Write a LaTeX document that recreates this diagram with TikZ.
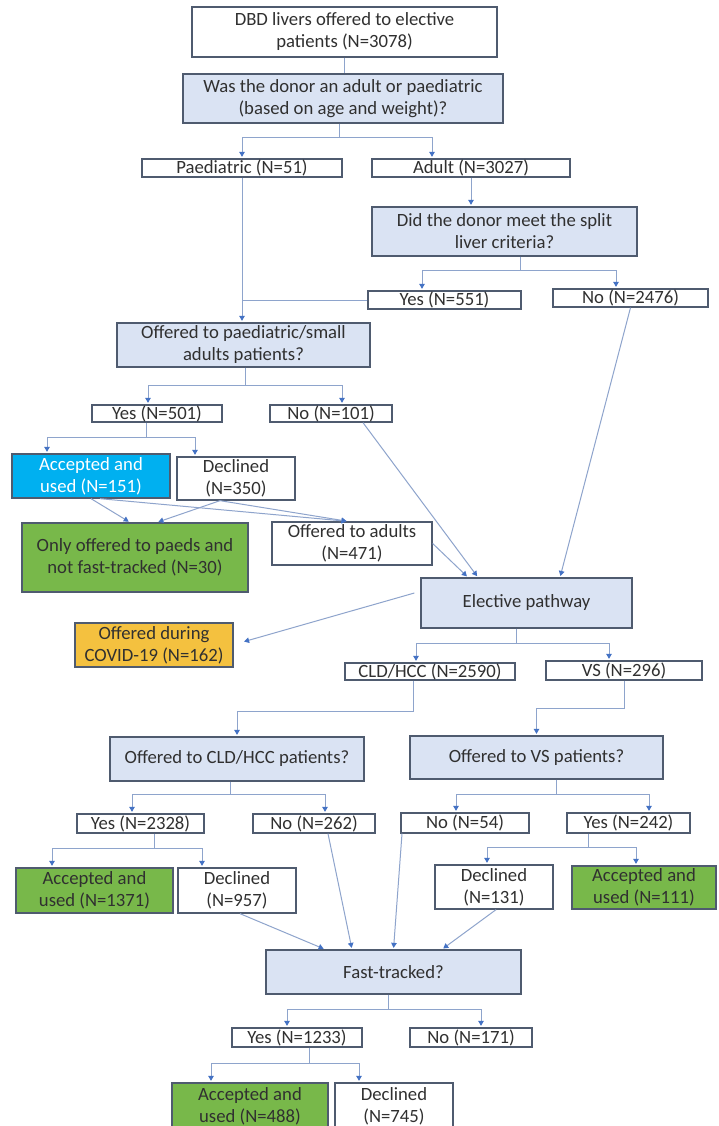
\documentclass[tikz,border=0pt]{standalone}
\usepackage{fontspec}
\setmainfont{Carlito}
\usetikzlibrary{arrows.meta,calc}
\definecolor{bord}{HTML}{4F5B6F}
\definecolor{qfill}{HTML}{DAE3F3}
\definecolor{lnc}{HTML}{8EA4CC}
\definecolor{tipc}{HTML}{4472C4}
\definecolor{grn}{HTML}{78B84A}
\definecolor{cyanb}{HTML}{00B0F0}
\definecolor{orng}{HTML}{F4C13F}
\definecolor{txt}{HTML}{303030}
\tikzset{
 base/.style={draw=bord, line width=1.3pt, inner sep=0pt, align=center, text=txt, font=\fontsize{18.7}{22}\selectfont},
 plainbox/.style={base, fill=white},
 questbox/.style={base, fill=qfill},
 grnbox/.style={base, fill=grn},
 cyanbox/.style={base, fill=cyanb, text=white},
 covidbox/.style={base, fill=orng},
 conn/.style={draw=lnc, line width=1pt},
 arr/.style={conn, -{Triangle[width=5.5pt,length=5pt,color=tipc]}, shorten >=1.5pt},
}
\newcommand\drawbox[7]{\node[#6, minimum width={(#4)-(#2)}, minimum height={(#5)-(#3)}] (#1) at ({((#2)+(#4))/2},{((#3)+(#5))/2}) {#7};}
\begin{document}
\begin{tikzpicture}[x=1pt,y=-1pt]
\useasboundingbox (0,0) rectangle (718,1126);
\fill[white] (0,0) rectangle (718,1126);
\drawbox{dbd}{192}{7}{497}{57}{plainbox}{DBD livers offered to elective\\patients (N=3078)}
\drawbox{q1}{183}{74}{503}{123}{questbox}{Was the donor an adult or paediatric\\(based on age and weight)?}
\drawbox{paed}{142}{159}{342}{177}{plainbox}{Paediatric (N=51)}
\drawbox{adult}{372}{159}{570}{177}{plainbox}{Adult (N=3027)}
\drawbox{split}{372}{207}{637}{256}{questbox}{Did the donor meet the split\\liver criteria?}
\drawbox{yesA}{368}{291}{521}{309}{plainbox}{Yes (N=551)}
\drawbox{noA}{553}{289}{708}{307}{plainbox}{No (N=2476)}
\drawbox{qpaed}{117}{323}{370}{367}{questbox}{Offered to paediatric/small\\adults patients?}
\drawbox{yesB}{92}{405}{222}{422}{plainbox}{Yes (N=501)}
\drawbox{noB}{270}{405}{392}{422}{plainbox}{No (N=101)}
\drawbox{accA}{12}{454}{170}{498}{cyanbox}{Accepted and\\used (N=151)}
\drawbox{decA}{177}{457}{295}{500}{plainbox}{Declined\\(N=350)}
\drawbox{paedsonly}{22}{523}{248}{592}{grnbox}{Only offered to paeds and\\not fast-tracked (N=30)}
\drawbox{adults}{272}{522}{432}{565}{plainbox}{Offered to adults\\(N=471)}
\drawbox{elective}{421}{578}{632}{628}{questbox}{Elective pathway}
\drawbox{covid}{75}{623}{233}{667}{covidbox}{Offered during\\COVID-19 (N=162)}
\drawbox{cld}{345}{663}{515}{680}{plainbox}{CLD/HCC (N=2590)}
\drawbox{vs}{546}{661}{702}{680}{plainbox}{VS (N=296)}
\drawbox{qcld}{110}{737}{364}{781}{questbox}{Offered to CLD/HCC patients?}
\drawbox{qvs}{410}{736}{663}{779}{questbox}{Offered to VS patients?}
\drawbox{yesC}{77}{814}{204}{833}{plainbox}{Yes (N=2328)}
\drawbox{noC}{253}{814}{375}{833}{plainbox}{No (N=262)}
\drawbox{noD}{401}{813}{529}{833}{plainbox}{No (N=54)}
\drawbox{yesD}{567}{813}{690}{833}{plainbox}{Yes (N=242)}
\drawbox{accC}{16}{868}{173}{913}{grnbox}{Accepted and\\used (N=1371)}
\drawbox{decC}{178}{868}{296}{913}{plainbox}{Declined\\(N=957)}
\drawbox{decD}{435}{865}{553}{909}{plainbox}{Declined\\(N=131)}
\drawbox{accD}{572}{866}{716}{909}{grnbox}{Accepted and\\used (N=111)}
\drawbox{fast}{266}{950}{521}{994}{questbox}{Fast-tracked?}
\drawbox{yesE}{232}{1028}{362}{1047}{plainbox}{Yes (N=1233)}
\drawbox{noE}{410}{1028}{532}{1047}{plainbox}{No (N=171)}
\drawbox{accE}{172}{1083}{328}{1129}{grnbox}{Accepted and\\used (N=488)}
\drawbox{decE}{335}{1083}{453}{1129}{plainbox}{Declined\\(N=745)}
% connectors
\draw[conn] (dbd.south) -- (dbd.south |- q1.north);
\draw[conn] ([xshift=-4pt]q1.south) -- ++(0,14) coordinate (j1);
\draw[arr] (j1) -| (paed.north);
\draw[arr] (j1) -| ([xshift=-39pt]adult.north);
\draw[arr] (adult.south) -- (adult.south |- split.north);
\draw[conn] ([xshift=16pt]split.south) -- ++(0,14) coordinate (j2);
\draw[arr] (j2) -| ([xshift=-22.5pt]yesA.north);
\draw[arr] (j2) -| ([xshift=-14.5pt]noA.north);
\draw[arr] (paed.south) -- (paed.south |- qpaed.north);
\draw[conn] (yesA.west) -- (yesA.west -| paed.south);
\draw[conn] ([xshift=1.5pt]qpaed.south) -- ++(0,18) coordinate (j3);
\draw[arr] (j3) -| ([xshift=-9pt]yesB.north);
\draw[arr] (j3) -| ([xshift=11pt]noB.north);
\draw[conn] ([xshift=-11pt]yesB.south) -- ++(0,15) coordinate (j4);
\draw[arr] (j4) -| ([xshift=-44pt]accA.north);
\draw[arr] (j4) -| ([xshift=-41pt]decA.north);
\draw[arr] (accA.south) -- ([xshift=-5pt]paedsonly.north);
\draw[arr] ([xshift=-16pt]decA.south) -- ([xshift=22pt]paedsonly.north);
\draw[arr] ([xshift=9pt]accA.south) -- ([xshift=-4pt]adults.north);
\draw[arr] ([xshift=-16pt]decA.south) -- ([xshift=-4pt]adults.north);
\draw[arr] ([xshift=32pt]noB.south) -- ([xshift=-48.5pt]elective.north);
\draw[arr] (adults.east) -- ([xshift=-58.5pt]elective.north);
\draw[arr] (noA.south) -- ([xshift=33.5pt]elective.north);
\draw[arr] ([xshift=-6pt,yshift=10pt]elective.west) -- ([xshift=9pt,yshift=3pt]covid.east);
\draw[conn] ([xshift=-10.5pt]elective.south) -- ++(0,15) coordinate (j5);
\draw[arr] (j5) -| ([xshift=-14pt]cld.north);
\draw[arr] (j5) -| ([xshift=-15pt]vs.north);
\draw[conn] ([xshift=-17pt]cld.south) -- ++(0,31) coordinate (j6);
\draw[arr] (j6) -| (qcld.north);
\draw[conn] (vs.south) -- ++(0,28) coordinate (j7);
\draw[arr] (j7) -| (qvs.north);
\draw[conn] ([xshift=-7pt]qcld.south) -- ++(0,13) coordinate (j8);
\draw[arr] (j8) -| ([xshift=-8.5pt]yesC.north);
\draw[arr] (j8) -| ([xshift=11pt]noC.north);
\draw[conn] ([xshift=19.5pt]qvs.south) -- ++(0,15) coordinate (j9);
\draw[arr] (j9) -| ([xshift=-9pt]noD.north);
\draw[arr] (j9) -| ([xshift=20.5pt]yesD.north);
\draw[conn] ([xshift=13.5pt]yesC.south) -- ++(0,15) coordinate (j10);
\draw[arr] (j10) -| ([xshift=-42.5pt]accC.north);
\draw[arr] (j10) -| ([xshift=-35pt]decC.north);
\draw[conn] ([xshift=-40.5pt]yesD.south) -- ++(0,14) coordinate (j11);
\draw[arr] (j11) -| ([xshift=-7pt]decD.north);
\draw[arr] (j11) -| ([xshift=-8pt]accD.north);
\draw[arr] ([xshift=3pt]decC.south) -- ([xshift=-68.5pt]fast.north);
\draw[arr] ([xshift=14pt]noC.south) -- ([xshift=-41.5pt]fast.north);
\draw[arr] ([xshift=-63pt]noD.south) -- (fast.north);
\draw[arr] ([xshift=2pt]decD.south) -- ([xshift=48.5pt]fast.north);
\draw[conn] ([xshift=-5.5pt]fast.south) -- ++(0,15) coordinate (j12);
\draw[arr] (j12) -| ([xshift=-10pt]yesE.north);
\draw[arr] (j12) -| ([xshift=10pt]noE.north);
\draw[conn] ([xshift=12pt]yesE.south) -- ++(0,16) coordinate (j13);
\draw[arr] (j13) -| ([xshift=-39pt]accE.north);
\draw[arr] (j13) -| ([xshift=-35pt]decE.north);
\end{tikzpicture}
\end{document}
